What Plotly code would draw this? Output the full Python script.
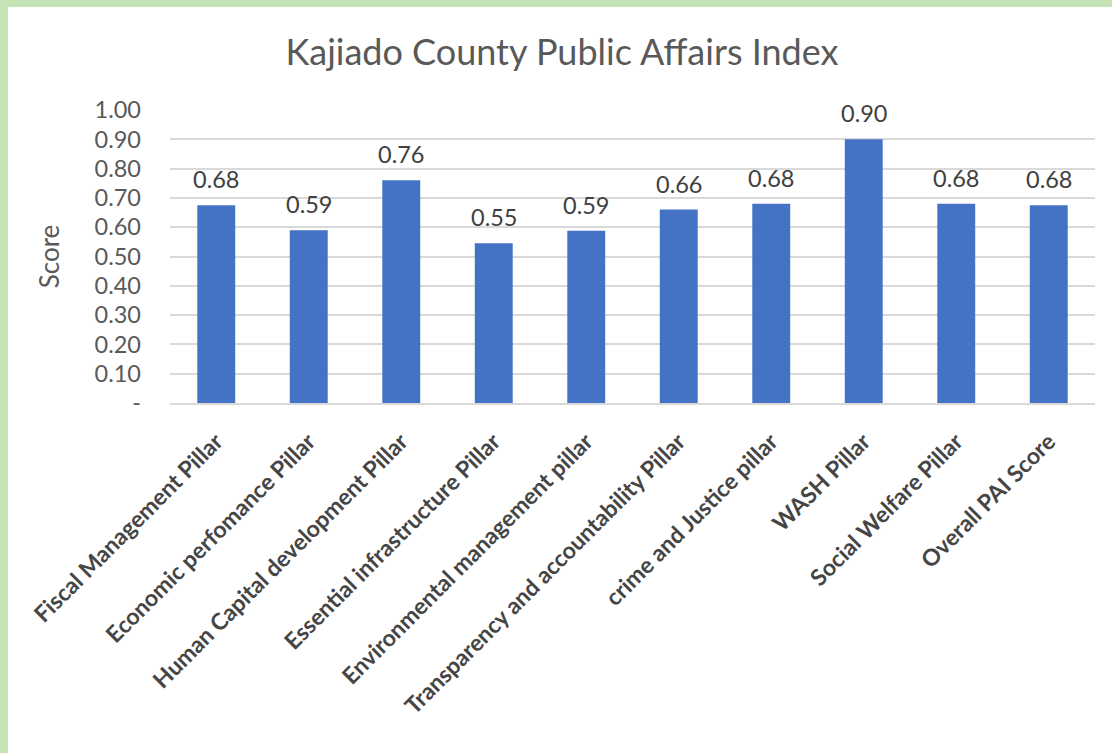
import plotly.graph_objects as go

categories = [
    "Fiscal Management Pillar",
    "Economic perfomance Pillar",
    "Human Capital development Pillar",
    "Essential infrastructure Pillar",
    "Environmental management pillar",
    "Transparency and accountability Pillar",
    "crime and Justice pillar",
    "WASH Pillar",
    "Social Welfare Pillar",
    "Overall PAI Score",
]
scores = [0.675, 0.59, 0.76, 0.545, 0.588, 0.66, 0.68, 0.90, 0.68, 0.675]
score_labels = ["0.68", "0.59", "0.76", "0.55", "0.59", "0.66", "0.68", "0.90", "0.68", "0.68"]
y_tickvals = [0, 0.1, 0.2, 0.3, 0.4, 0.5, 0.6, 0.7, 0.8, 0.9, 1.0]
y_ticktext = ["-", "0.10", "0.20", "0.30", "0.40", "0.50", "0.60", "0.70", "0.80", "0.90", "1.00"]

FONT = "Lato"
W, H = 1112, 753
L, R, T, B = 170, 17, 110, 350

fig = go.Figure(
    go.Bar(
        x=categories,
        y=scores,
        marker=dict(color="#4472C4", line=dict(width=0)),
        hoverinfo="x+y",
    )
)

for c, v, t in zip(categories, scores, score_labels):
    fig.add_annotation(
        x=c, y=v, text=t, showarrow=False, yanchor="bottom", yshift=10,
        font=dict(family=FONT, size=23.5, color="#404040"),
    )

pw = W - L - R
ph = H - T - B
fig.add_shape(
    type="rect", xref="paper", yref="paper", layer="below",
    x0=(8 - L) / pw, x1=(W - L) / pw + 0.02,
    y0=-(B + 5) / ph, y1=(H - B - 7) / ph,
    fillcolor="white", line=dict(width=0),
)

fig.update_layout(
    width=W, height=H,
    margin=dict(l=L, r=R, t=T, b=B, pad=0),
    paper_bgcolor="#c5e3b5",
    plot_bgcolor="rgba(0,0,0,0)",
    bargap=0.59,
    showlegend=False,
    title=dict(
        text="Kajiado County Public Affairs Index",
        x=(562 - L) / pw, xref="paper", xanchor="center",
        y=1 - 52 / H, yanchor="middle",
        font=dict(family=FONT, size=36, color="#595959"),
    ),
    font=dict(family=FONT, color="#595959"),
)
fig.update_xaxes(
    tickangle=-45,
    tickfont=dict(family=FONT, size=23, color="#454545", weight=700),
    showline=True, linecolor="#d9d9d9", linewidth=2,
    ticks="", showgrid=False, ticklabelstandoff=14,
)
fig.update_yaxes(
    range=[0, 1.0],
    tickvals=y_tickvals, ticktext=y_ticktext,
    tickfont=dict(family=FONT, size=23.5, color="#595959"),
    showgrid=True, gridcolor="#d9d9d9", gridwidth=2,
    zeroline=False, ticks="", ticklabelstandoff=28,
    title=dict(text="Score", font=dict(family=FONT, size=26, color="#595959"), standoff=27),
)

fig.write_html(
    "out.html",
    config={"displayModeBar": False},
    post_script="document.body.style.margin='0';document.body.style.overflow='hidden';",
)
